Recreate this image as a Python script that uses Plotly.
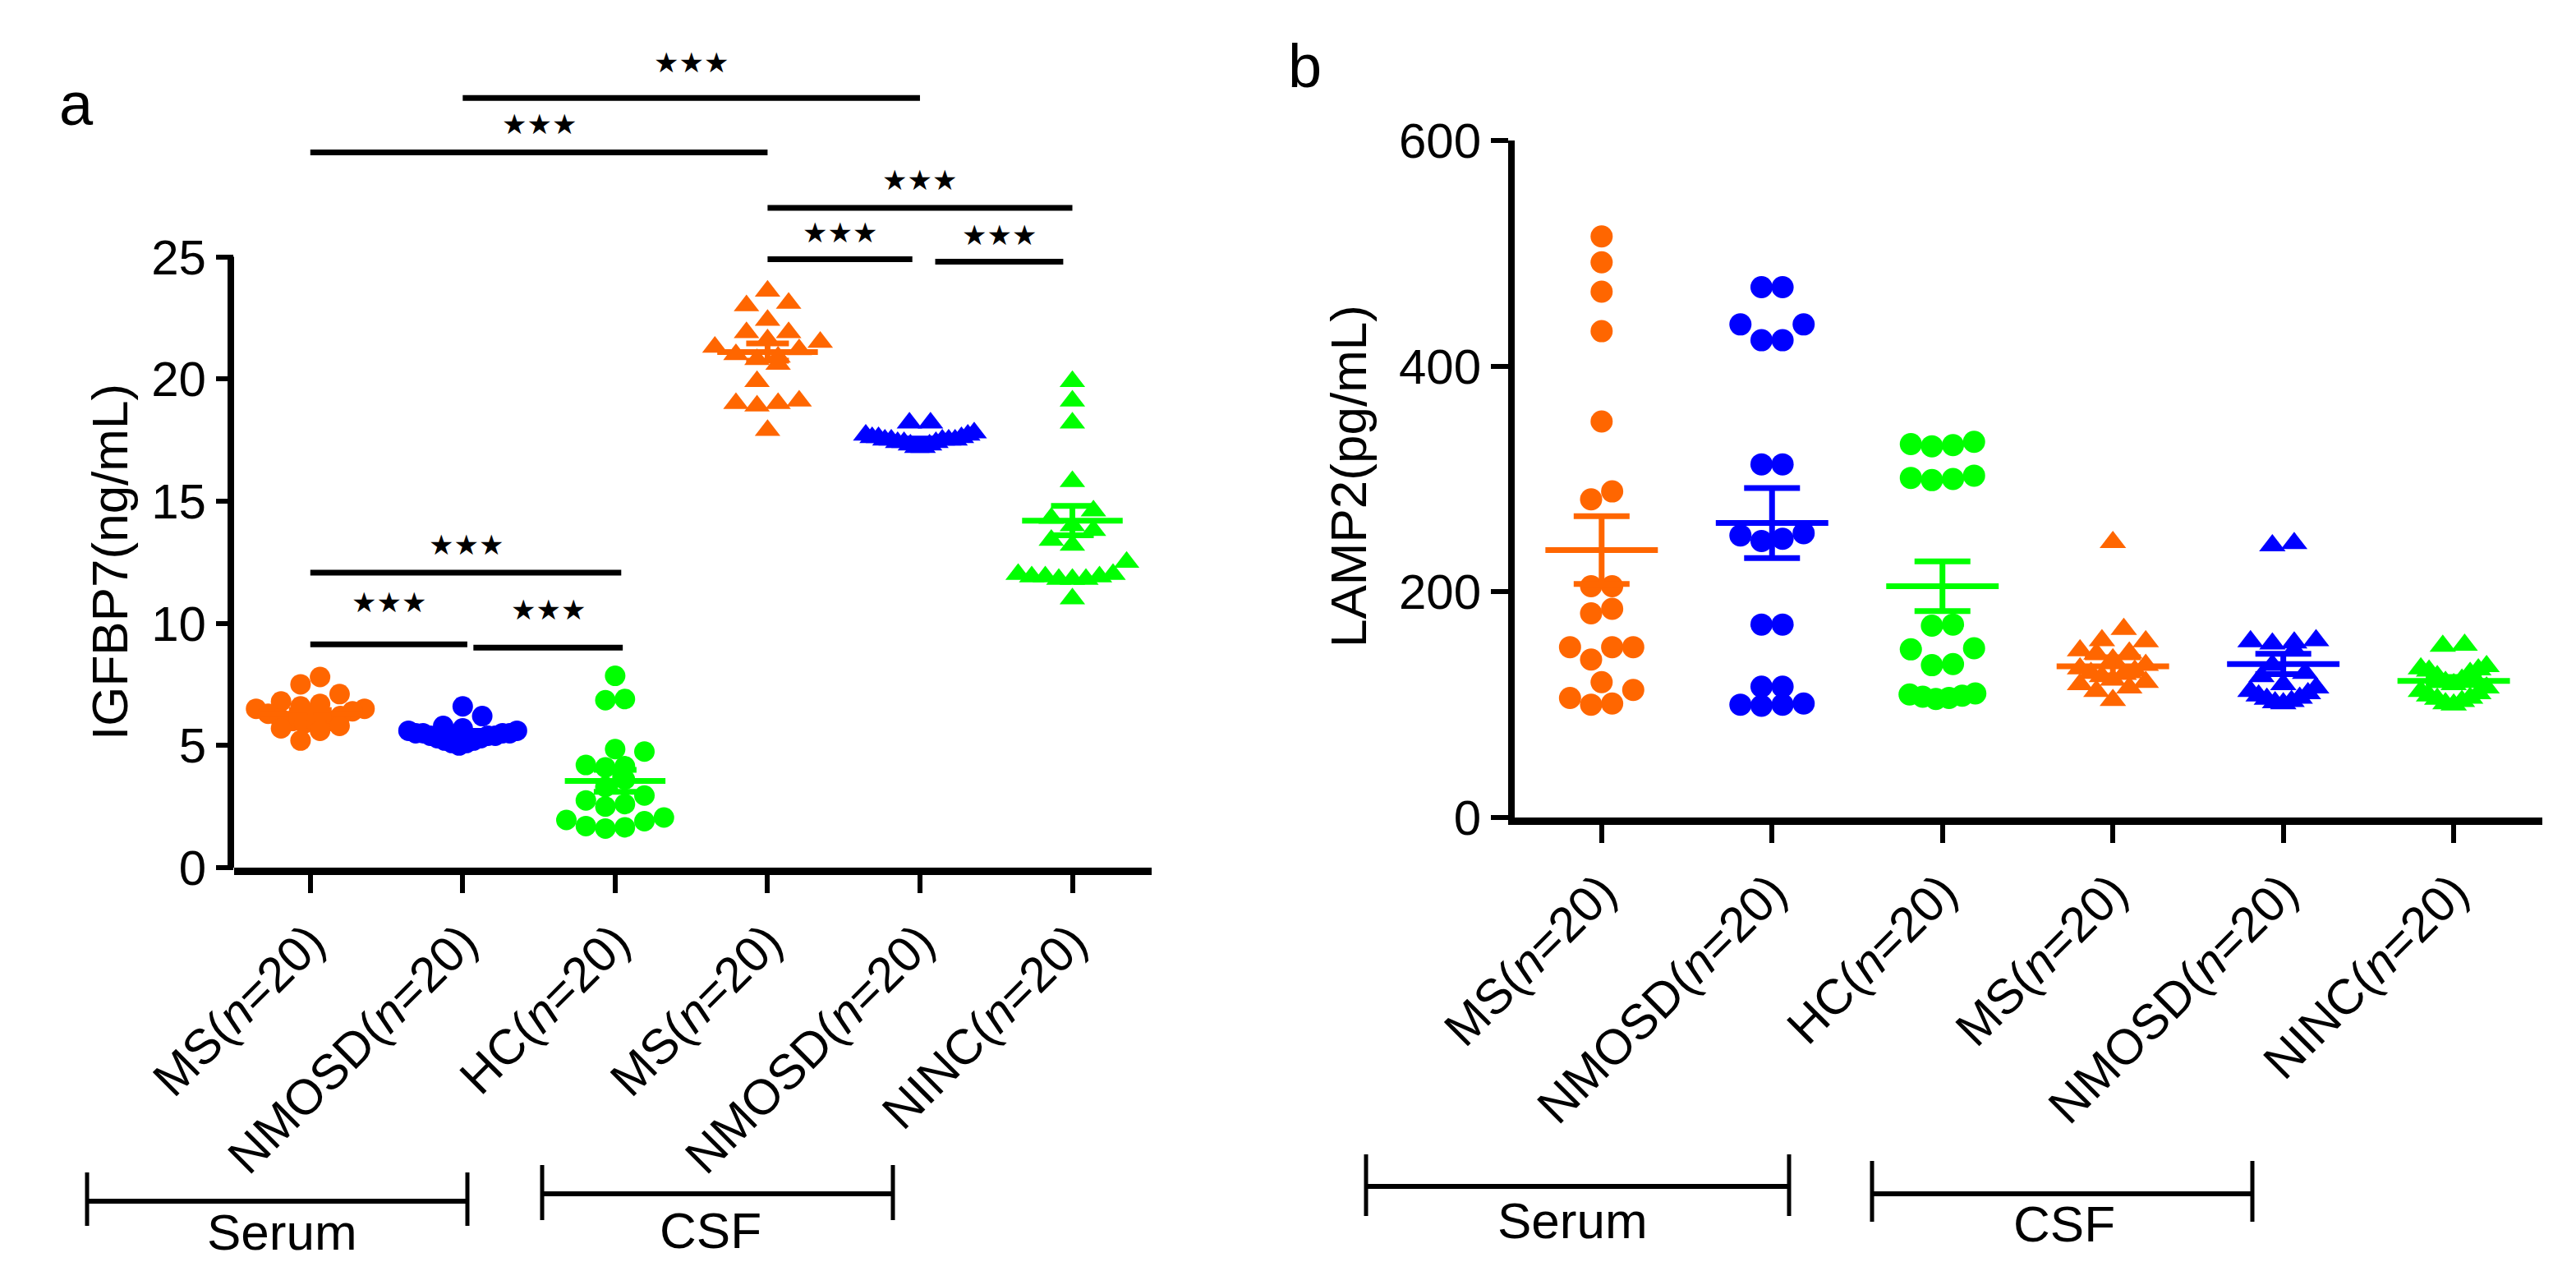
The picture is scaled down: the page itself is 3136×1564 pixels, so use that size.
import numpy as np
import plotly.graph_objects as go

# ---------------- data ----------------
groups = ["MS(<i>n</i>=20)", "NMOSD(<i>n</i>=20)", "HC(<i>n</i>=20)",
          "MS(<i>n</i>=20)", "NMOSD(<i>n</i>=20)", "NINC(<i>n</i>=20)"]

# panel a: IGFBP7 (ng/mL)
a_ms_serum = [7.8, 7.5, 7.1, 6.8, 6.7, 6.6, 6.5, 6.5, 6.4, 6.3, 6.2, 6.1, 6.0, 6.0, 5.9, 5.9, 5.8, 5.7, 5.6, 5.2]
a_nmosd_serum = [6.6, 6.2, 5.8, 5.7, 5.6, 5.6, 5.5, 5.5, 5.5, 5.5, 5.4, 5.4, 5.4, 5.3, 5.3, 5.2, 5.2, 5.1, 5.1, 5.0]
a_hc_serum = [7.85, 6.9, 6.85, 4.85, 4.75, 4.2, 4.15, 4.1, 3.6, 3.3, 2.95, 2.75, 2.6, 2.5, 2.05, 1.95, 1.9, 1.7, 1.65, 1.6]
a_ms_csf = [23.6, 23.1, 23.0, 22.4, 21.9, 21.9, 21.6, 21.5, 21.3, 21.2, 21.0, 20.9, 20.8, 20.6, 19.9, 19.1, 19.0, 19.0, 18.9, 17.9]
a_nmosd_csf = [18.2, 18.2, 17.8, 17.7, 17.7, 17.6, 17.6, 17.6, 17.5, 17.5, 17.5, 17.5, 17.5, 17.4, 17.4, 17.4, 17.3, 17.3, 17.2, 17.2]
a_ninc_csf = [19.9, 19.1, 18.2, 15.8, 14.6, 14.3, 14.0, 13.8, 13.4, 13.2, 12.5, 12.0, 12.0, 11.9, 11.9, 11.9, 11.8, 11.8, 11.8, 11.0]
a_mean = [6.3, 5.5, 3.55, 21.1, 17.5, 14.2]
a_sem = [0.15, 0.1, 0.45, 0.35, 0.06, 0.6]
a_yticks = [0, 5, 10, 15, 20, 25]

# significance comparisons in panel a
sig_x0 = [1, 0, 3, 3, 4.1, 0, 0, 1.07]
sig_x1 = [4, 3, 5, 3.95, 4.94, 2.04, 1.03, 2.05]
sig_y = [31.5, 29.27, 27.0, 24.9, 24.8, 12.07, 9.14, 9.0]
sig_label_y = [32.95, 30.43, 28.15, 26.0, 25.9, 13.2, 10.85, 10.55]
sig_text = ["\u2605\u2605\u2605"] * 8

# panel b: LAMP2 (pg/mL)
b_ms_serum = [515, 492, 466, 431, 351, 289, 282, 205, 205, 185, 181, 151, 151, 151, 140, 120, 113, 106, 101, 100]
b_nmosd_serum = [470, 470, 437, 437, 423, 423, 313, 313, 252, 250, 247, 245, 171, 171, 116, 116, 101, 100, 100, 99]
b_hc_serum = [333, 331, 330, 329, 303, 301, 300, 299, 171, 170, 150, 149, 136, 135, 110, 109, 108, 107, 106, 105]
b_ms_csf = [244, 167, 157, 156, 148, 146, 145, 140, 135, 132, 130, 128, 127, 125, 122, 120, 118, 115, 112, 104]
b_nmosd_csf = [243, 241, 157, 156, 155, 154, 148, 135, 128, 125, 118, 115, 112, 110, 108, 106, 105, 103, 102, 101]
b_ninc_csf = [153, 152, 134, 132, 131, 130, 128, 125, 122, 120, 118, 115, 112, 110, 108, 106, 105, 103, 101, 100]
b_mean = [237, 261, 205, 134, 136, 121]
b_sem = [30, 31, 22, 8, 9, 3.5]
b_yticks = [0, 200, 400, 600]

sample_groups = ["Serum", "CSF"]

# ---------------- layout geometry (px) ----------------
W, H = 3136, 1564
ORANGE, BLUE, GREEN = "#FF6600", "#0000FF", "#00FF00"
colors = [ORANGE, BLUE, GREEN, ORANGE, BLUE, GREEN]
symbols = ["circle"] * 3 + ["triangle-up"] * 3
FONT = "Arial, Liberation Sans, sans-serif"
STARFONT = "DejaVu Sans, sans-serif"

A_X0, A_X1, A_XR = 277, 1394, [-0.5, 5.52]
A_Y0PX, A_PPU, A_YR = 1048, 29.74, [0, 35]
B_X0, B_X1, B_XR = 1836, 3087, [-0.51, 5.52]
B_Y0PX, B_Y1PX, B_YR = 987, 163, [0, 600]


def pxx(px):
    return px / W


def pxy(py):
    return 1 - py / H


a_ppc = (A_X1 - A_X0) / (A_XR[1] - A_XR[0])
b_ppc = (B_X1 - B_X0) / (B_XR[1] - B_XR[0])
b_ppu = (B_Y0PX - B_Y1PX) / (B_YR[1] - B_YR[0])


def swarm(vals, cat, ppu_y, ppc_x, diam, step, maxhalf):
    """Row-binned scatter-dot layout: points of similar value share a row,
    spread symmetrically around the category centre."""
    v = np.asarray(vals, float)
    order = np.argsort(v, kind="stable")
    xs = np.zeros(len(v))
    bins, cur = [], [order[0]]
    for i in order[1:]:
        if (v[i] - v[cur[0]]) * ppu_y < diam * 0.8:
            cur.append(i)
        else:
            bins.append(cur)
            cur = [i]
    bins.append(cur)
    for b in bins:
        n = len(b)
        st = step if n == 1 else min(step, 2 * maxhalf / (n - 1))
        slots = [(k - (n - 1) / 2) for k in range(n)]
        slots.sort(key=lambda s: (abs(s), s))
        for s, i in zip(slots, b):
            xs[i] = cat + s * st / ppc_x
    return xs


fig = go.Figure()

a_data = [a_ms_serum, a_nmosd_serum, a_hc_serum, a_ms_csf, a_nmosd_csf, a_ninc_csf]
b_data = [b_ms_serum, b_nmosd_serum, b_hc_serum, b_ms_csf, b_nmosd_csf, b_ninc_csf]

for panel, data, means, sems, ppu, ppc, xa, ya, csize, tsize, caphalf, maxhalf in [
    ("a", a_data, a_mean, a_sem, A_PPU, a_ppc, "x", "y", 25, 27, 26, 66),
    ("b", b_data, b_mean, b_sem, b_ppu, b_ppc, "x2", "y2", 27, 28, 34, 40),
]:
    for i, vals in enumerate(data):
        size = csize if symbols[i] == "circle" else tsize
        xs = swarm(vals, i, ppu, ppc, size, size * 0.95, maxhalf)
        fig.add_trace(go.Scatter(
            x=xs, y=vals, mode="markers", xaxis=xa, yaxis=ya, showlegend=False,
            cliponaxis=False,
            marker=dict(symbol=symbols[i], size=size, color=colors[i], line=dict(width=0))))
    for i in range(6):
        fig.add_trace(go.Scatter(
            x=[i - 0.33, i + 0.33], y=[means[i], means[i]], mode="lines",
            xaxis=xa, yaxis=ya, showlegend=False, cliponaxis=False,
            line=dict(color=colors[i], width=7)))
        fig.add_trace(go.Scatter(
            x=[i], y=[means[i]], mode="markers", xaxis=xa, yaxis=ya, showlegend=False,
            cliponaxis=False, marker=dict(size=1, opacity=0),
            error_y=dict(type="data", array=[sems[i]], color=colors[i],
                         thickness=7, width=caphalf)))

shapes = []
annotations = []

# panel a y-axis line only from 0 to 25
shapes.append(dict(type="line", xref="paper", yref="y", x0=pxx(A_X0 - 4), x1=pxx(A_X0 - 4),
                   y0=0, y1=25, line=dict(color="black", width=8)))

for x0, x1, y, ly, t in zip(sig_x0, sig_x1, sig_y, sig_label_y, sig_text):
    shapes.append(dict(type="line", xref="x", yref="y", x0=x0, x1=x1, y0=y, y1=y,
                       line=dict(color="black", width=7)))
    annotations.append(dict(xref="x", yref="y", x=(x0 + x1) / 2, y=ly, text=t,
                            showarrow=False, yanchor="middle",
                            font=dict(family=STARFONT, size=34, color="black")))

# sample group brackets (px positions)
brackets = [
    (98, 561, 1454, 1419, 1484, 335, 1491, sample_groups[0]),
    (652, 1079, 1445, 1410, 1477, 857, 1489, sample_groups[1]),
    (1655, 2170, 1436, 1397, 1472, 1907, 1477, sample_groups[0]),
    (2271, 2734, 1445, 1405, 1479, 2505, 1481, sample_groups[1]),
]
for x0, x1, yl, yv0, yv1, tx, ty, txt in brackets:
    shapes.append(dict(type="line", xref="paper", yref="paper", x0=pxx(x0), x1=pxx(x1),
                       y0=pxy(yl), y1=pxy(yl), line=dict(color="black", width=6)))
    for xv in (x0, x1):
        shapes.append(dict(type="line", xref="paper", yref="paper", x0=pxx(xv), x1=pxx(xv),
                           y0=pxy(yv0), y1=pxy(yv1), line=dict(color="black", width=5)))
    annotations.append(dict(xref="paper", yref="paper", x=pxx(tx), y=pxy(ty), text=txt,
                            showarrow=False, xanchor="center", yanchor="middle",
                            font=dict(family=FONT, size=62, color="black")))

# axis titles and panel letters
annotations += [
    dict(xref="paper", yref="paper", x=pxx(125), y=pxy(676), text="IGFBP7(ng/mL)",
         textangle=-90, showarrow=False, xanchor="center", yanchor="middle",
         font=dict(family=FONT, size=62, color="black")),
    dict(xref="paper", yref="paper", x=pxx(1633), y=pxy(571), text="LAMP2(pg/mL)",
         textangle=-90, showarrow=False, xanchor="center", yanchor="middle",
         font=dict(family=FONT, size=62, color="black")),
    dict(xref="paper", yref="paper", x=pxx(85), y=pxy(118), text="a",
         showarrow=False, xanchor="center", yanchor="middle",
         font=dict(family=FONT, size=74, color="black")),
    dict(xref="paper", yref="paper", x=pxx(1581), y=pxy(72), text="b",
         showarrow=False, xanchor="center", yanchor="middle",
         font=dict(family=FONT, size=74, color="black")),
]

tickfont = dict(family=FONT, size=60, color="black")
xcommon = dict(tickmode="array", tickvals=list(range(6)), ticktext=groups, tickangle=-45,
               ticks="outside", ticklen=22, tickwidth=6, tickcolor="black",
               showline=True, linewidth=9, linecolor="black", showgrid=False,
               zeroline=False, tickfont=tickfont, automargin=False)

fig.update_layout(
    template="none",
    width=W, height=H, margin=dict(l=0, r=0, t=0, b=0, autoexpand=False),
    paper_bgcolor="white", plot_bgcolor="white", showlegend=False,
    xaxis=dict(domain=[pxx(A_X0), pxx(A_X1)], range=A_XR, anchor="y", **xcommon),
    yaxis=dict(domain=[pxy(A_Y0PX), pxy(A_Y0PX - A_PPU * (A_YR[1] - A_YR[0]))], range=A_YR,
               anchor="x", tickmode="array", tickvals=a_yticks, ticks="outside", ticklen=21,
               tickwidth=6, tickcolor="black", showline=False, showgrid=False,
               zeroline=False, tickfont=tickfont, automargin=False),
    xaxis2=dict(domain=[pxx(B_X0), pxx(B_X1)], range=B_XR, anchor="y2", **xcommon),
    yaxis2=dict(domain=[pxy(B_Y0PX), pxy(B_Y1PX)], range=B_YR, anchor="x2",
                tickmode="array", tickvals=b_yticks, ticks="outside", ticklen=21,
                tickwidth=6, tickcolor="black", showline=True, linewidth=8,
                linecolor="black", showgrid=False, zeroline=False, tickfont=tickfont,
                automargin=False),
    shapes=shapes, annotations=annotations,
)

fig.write_html("out.html")
